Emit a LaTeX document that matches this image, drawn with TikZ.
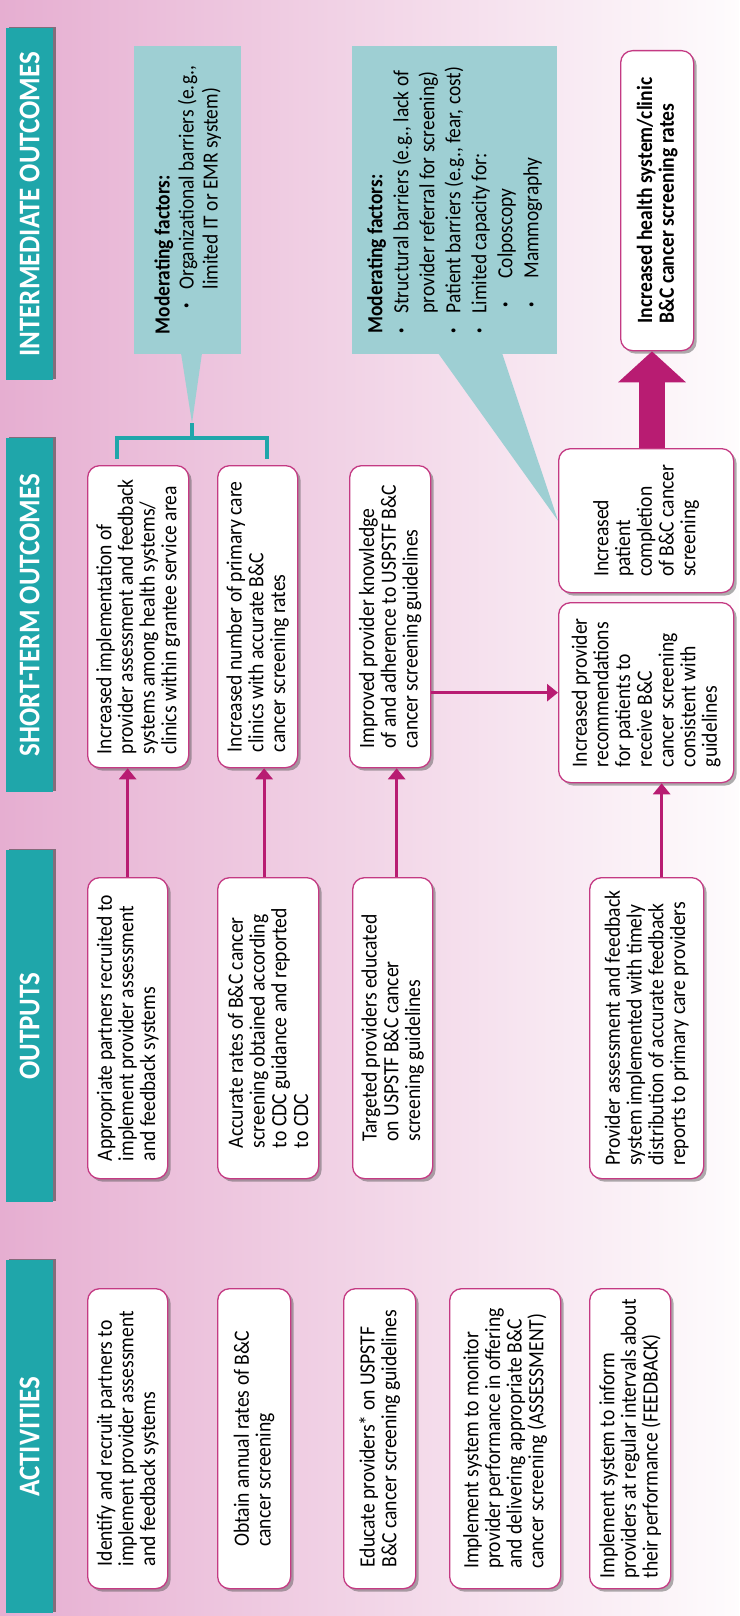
\documentclass[tikz,border=0pt]{standalone}
\usepackage{fontspec}
\setmainfont[FakeStretch=0.9]{Carlito}
\usepackage{graphicx}
\usetikzlibrary{shadows,arrows.meta,calc}
\definecolor{teal1}{RGB}{31,166,170}
\definecolor{teal2}{RGB}{158,207,211}
\definecolor{mag}{RGB}{184,28,114}
\definecolor{bord}{RGB}{196,58,131}
\definecolor{pinkL}{RGB}{230,174,209}
\definecolor{pinkR}{RGB}{254,252,253}
\newcommand{\rt}[2]{\rotatebox{90}{\begin{minipage}{#1}\let\\\cr\vbox{\halign{##\hfil\cr #2\crcr}}\end{minipage}}}
\newcommand{\bul}{\raisebox{0.35ex}{\scalebox{0.55}{\textbullet}}}
\begin{document}
\begin{tikzpicture}[x=1pt,y=-1pt,
  header/.style={fill=teal1, inner sep=0pt, minimum width=47pt, text=white,
    font=\fontsize{30}{30}\selectfont\bfseries,
    drop shadow={shadow xshift=3pt, shadow yshift=1pt, opacity=0.55, fill=black!80}},
  box/.style={draw=bord, line width=1.3pt, fill=white, rounded corners=12pt, inner sep=0pt,
    anchor=north west, font=\fontsize{21.8}{21.7}\selectfont,
    drop shadow={shadow xshift=3pt, shadow yshift=-3pt, opacity=0.45, fill=black!70}},
  mod/.style={fill=teal2, inner sep=0pt, anchor=north west, font=\fontsize{21.6}{24}\selectfont},
  arr/.style={draw=mag, line width=3.2pt, -{Triangle[width=17pt,length=11pt]}},
  brk/.style={draw=teal1, line width=3.2pt}]
\useasboundingbox (0,0) rectangle (739,1616);
\shade[left color=pinkL, right color=pinkR] (0,0) rectangle (739,1616);

% headers
\node[header, minimum height=353pt, anchor=north west] (h1) at (6,1260) {\rotatebox{90}{ACTIVITIES}};
\node[header, minimum height=352pt, anchor=north west] (h2) at (6,850) {\rotatebox{90}{OUTPUTS}};
\node[header, minimum height=354pt, anchor=north west] (h3) at (6,438) {\rotatebox{90}{SHORT-TERM OUTCOMES}};
\node[header, minimum height=352pt, anchor=north west] (h4) at (6,28) {\rotatebox{90}{INTERMEDIATE OUTCOMES}};

% activities
\node[box, minimum width=80pt, minimum height=300pt] (a1) at (87,1288) {\rt{264pt}{Identify and recruit partners to\\implement provider assessment\\and feedback systems}};
\node[box, minimum width=73pt, minimum height=300pt] (a2) at (217,1288) {\rt{264pt}{Obtain annual rates of B\&C\\cancer screening}};
\node[box, minimum width=72pt, minimum height=300pt] (a3) at (343,1288) {\rt{264pt}{Educate providers* on USPSTF\\B\&C cancer screening guidelines}};
\node[box, minimum width=111pt, minimum height=300pt] (a4) at (449,1288) {\rt{264pt}{Implement system to monitor\\provider performance in offering\\and delivering appropriate B\&C\\cancer screening (ASSESSMENT)}};
\node[box, minimum width=81pt, minimum height=300pt] (a5) at (589,1288) {\rt{264pt}{Implement system to inform\\providers at regular intervals about\\their performance (FEEDBACK)}};

% outputs
\node[box, minimum width=80pt, minimum height=301pt] (o1) at (87,877) {\rt{265pt}{Appropriate partners recruited to\\implement provider assessment\\and feedback systems}};
\node[box, minimum width=101pt, minimum height=301pt] (o2) at (217,877) {\rt{265pt}{Accurate rates of B\&C cancer\\screening obtained according\\to CDC guidance and reported\\to CDC}};
\node[box, minimum width=80pt, minimum height=301pt] (o3) at (352,877) {\rt{265pt}{Targeted providers educated\\on USPSTF B\&C cancer\\screening guidelines}};
\node[box, minimum width=114pt, minimum height=301pt] (o4) at (589,877) {\rt{265pt}{Provider assessment and feedback\\system implemented with timely\\distribution of accurate feedback\\reports to primary care providers}};

% short-term outcomes
\node[box, minimum width=101pt, minimum height=302pt] (s1) at (87,465) {\rt{266pt}{Increased implementation of\\provider assessment and feedback\\systems among health systems/\\clinics within grantee service area}};
\node[box, minimum width=80pt, minimum height=302pt] (s2) at (217,465) {\rt{266pt}{Increased number of primary care\\clinics with accurate B\&C\\cancer screening rates}};
\node[box, minimum width=81pt, minimum height=302pt] (s3) at (349,465) {\rt{266pt}{Improved provider knowledge\\of and adherence to USPSTF B\&C\\cancer screening guidelines}};
\node[box, minimum width=175pt, minimum height=180pt] (s4) at (558,602) {\rt{140pt}{Increased provider\\recommendations\\for patients to\\receive B\&C\\cancer screening\\consistent with\\guidelines}};
\node[box, minimum width=175pt, minimum height=144pt] (s5) at (558,448) {\rt{106pt}{Increased\\patient\\completion\\of B\&C cancer\\screening}};

% intermediate outcome
\node[box, minimum width=73pt, minimum height=300pt, font=\fontsize{21.8}{21.7}\selectfont\bfseries] (f) at (620,50) {\rt{266pt}{Increased health system/clinic\\B\&C cancer screening rates}};

% moderating callouts
\coordinate (bt) at (192,423);
\fill[teal2] (181,353) -- (202,353) -- (bt) -- cycle;
\fill[teal2] (438,353) -- (502,353) -- (s5.west) -- cycle;
\node[mod, minimum width=107pt, minimum height=308pt] (m1) at (134,46) {\rt{280pt}{%
  \textbf{Moderating factors:}\\
  \hspace*{26pt}\makebox[19pt][l]{\bul}Organizational barriers (e.g.,\\
  \hspace*{45pt}limited IT or EMR system)}};
\node[mod, minimum width=205pt, minimum height=308pt, font=\fontsize{21.6}{26}\selectfont] (m2) at (352,46) {\rt{282pt}{%
  \textbf{Moderating factors:}\\
  \makebox[20pt][l]{\bul}Structural barriers (e.g., lack of\\
  \hspace*{20pt}provider referral for screening)\\
  \makebox[20pt][l]{\bul}Patient barriers (e.g., fear, cost)\\
  \makebox[20pt][l]{\bul}Limited capacity for:\\
  \hspace*{26pt}\makebox[29pt][l]{\bul}Colposcopy\\
  \hspace*{26pt}\makebox[29pt][l]{\bul}Mammography}};

% bracket
\coordinate (bj) at (192,438);
\coordinate (bl) at (117,459);
\coordinate (br) at (267,459);
\draw[brk] (bl) |- (bj) -| (br);
\draw[brk] (bt) -- (bj);

% connectors
\draw[arr] (o1.north) -- (o1.north |- s1.south);
\draw[arr] ([xshift=-4pt]o2.north) -- ([xshift=-4pt]o2.north |- s2.south);
\draw[arr] ([xshift=4pt]o3.north) -- ([xshift=4pt]o3.north |- s3.south);
\draw[arr] ([xshift=15pt]o4.north) -- ([xshift=15pt]o4.north |- s4.south);
\draw[arr] (s3.east |- s4.west) -- (s4.west);
\coordinate (ba) at (652,448);
\draw[draw=mag, line width=26pt, -{Triangle[width=66pt,length=31pt]}] (ba) -- (ba |- f.south);
\end{tikzpicture}
\end{document}
